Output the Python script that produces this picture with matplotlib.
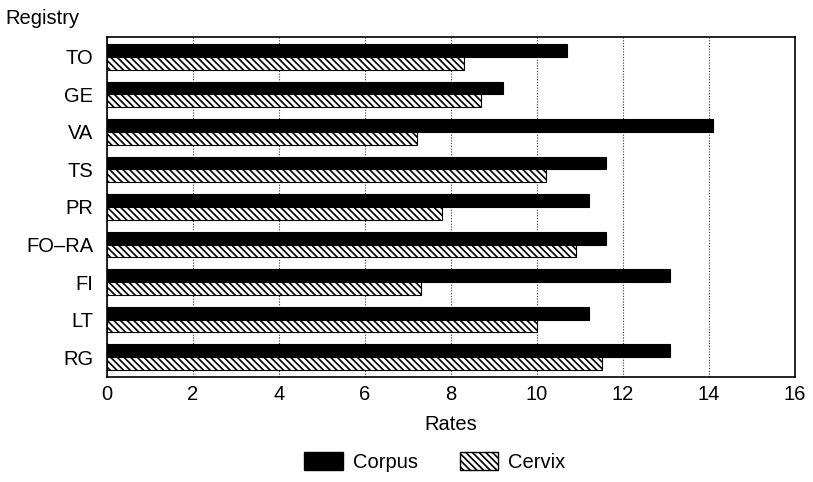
import matplotlib
matplotlib.use("Agg")
import matplotlib.pyplot as plt
import numpy as np
from matplotlib.patches import Patch

plt.rcParams['font.family'] = ['Liberation Sans', 'DejaVu Sans']
plt.rcParams['hatch.linewidth'] = 1.2

registries = ["TO", "GE", "VA", "TS", "PR", "FO\u2013RA", "FI", "LT", "RG"]
corpus = [10.7, 9.2, 14.1, 11.6, 11.2, 11.6, 13.1, 11.2, 13.1]
cervix = [8.3, 8.7, 7.2, 10.2, 7.8, 10.9, 7.3, 10.0, 11.5]
xticks = [0, 2, 4, 6, 8, 10, 12, 14, 16]

HATCH = '\\' * 5
FS = 14.5

fig = plt.figure(figsize=(8.13, 4.82), dpi=100)
ax = fig.add_axes([107/813, 1 - 377/482, (795 - 107)/813, (377 - 37)/482])

n = len(registries)
y = np.arange(n)[::-1].astype(float)
h = 0.34
ax.barh(y + h/2, corpus, height=h, color='black', edgecolor='black', linewidth=0.8, zorder=3)
ax.barh(y - h/2, cervix, height=h, color='white', edgecolor='black', hatch=HATCH, linewidth=0.8, zorder=3)

ax.set_xlim(0, 16)
ax.set_ylim(-0.5 - 0.03, n - 0.5 + 0.03)
ax.set_xticks(xticks)
ax.set_xticklabels([str(t) for t in xticks], fontsize=FS)
ax.set_yticks(y)
ax.set_yticklabels(registries, fontsize=FS)
ax.tick_params(axis='x', length=0, pad=6)
ax.tick_params(axis='y', length=0, pad=10)
ax.xaxis.grid(True, linestyle=(0, (1, 1.5)), color='#333333', linewidth=0.8, zorder=1)
for s in ax.spines.values():
    s.set_linewidth(1.2)
    s.set_color('black')

ax.set_xlabel("Rates", fontsize=FS, labelpad=8)
fig.text(5/813, 1 - 18/482, "Registry", fontsize=FS, va='center', ha='left')

handles = [Patch(facecolor='black', edgecolor='black', label='Corpus'),
           Patch(facecolor='white', edgecolor='black', hatch=HATCH, label='Cervix')]
fig.legend(handles=handles, loc='center', bbox_to_anchor=(435/813, 1 - 462/482), ncol=2,
           frameon=False, fontsize=FS, handlelength=1.9, handleheight=0.95,
           columnspacing=2.1, handletextpad=0.5, borderpad=0.2)

fig.savefig("out.png", dpi=100)
